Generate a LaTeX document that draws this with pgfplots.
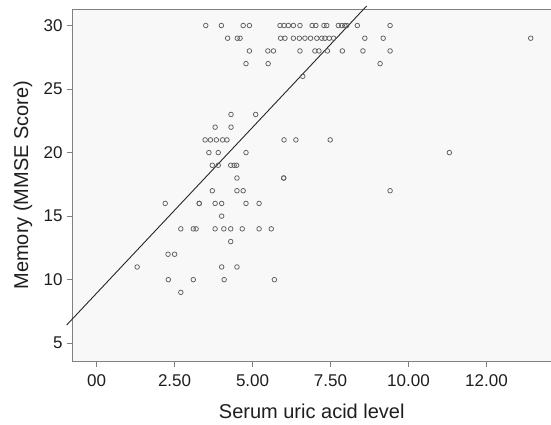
\documentclass[border=0pt]{standalone}
\usepackage{fontspec}
\setmainfont{Liberation Sans}
\usepackage{pgfplots}
\pgfplotsset{compat=1.18}

\definecolor{framegray}{RGB}{128,128,128}
\definecolor{markgray}{RGB}{95,95,95}
\definecolor{bggray}{RGB}{248,248,248}
\definecolor{txtgray}{RGB}{30,30,30}

\begin{document}
\begin{tikzpicture}
% canvas of the reference: 551 x 425
\useasboundingbox (-72.5bp,-64bp) rectangle (478.5bp,361bp);
\begin{axis}[
    scale only axis,
    width=478.5bp, height=352bp,
    xmin=-0.773, xmax=14.57,
    ymin=3.6, ymax=31.3,
    clip=false,
    axis background/.style={fill=bggray},
    axis line style={framegray, line width=0.9bp},
    tick style={framegray, line width=0.9bp},
    tick align=outside,
    major tick length=5.5bp,
    xtick pos=bottom, ytick pos=left,
    xtick={0,2.5,5,7.5,10,12.5},
    xticklabels={00,2.50,5.00,7.50,10.00,12.00},
    ytick={5,10,15,20,25,30},
    yticklabels={5,10,15,20,25,30},
    tick label style={font=\fontsize{17bp}{20bp}\selectfont, text=txtgray},
    xticklabel style={yshift=-5bp},
    yticklabel style={xshift=-1bp},
    label style={font=\fontsize{20bp}{24bp}\selectfont, text=txtgray},
    xlabel={Serum uric acid level},
    xlabel style={at={(axis description cs:0.5,0)}, anchor=center, yshift=-50bp},
    ylabel={Memory (MMSE Score)},
    ylabel style={at={([xshift=-49.5bp]axis description cs:0,0.5)}, anchor=center},
]
\addplot[only marks, mark=o, mark size=2.3bp, mark options={draw=markgray, line width=0.75bp}]
coordinates {
 (3.50,30) (4.00,30) (4.70,30) (4.90,30) (5.88,30) (6.01,30) (6.15,30) (6.31,30)
 (6.52,30) (6.91,30) (7.03,30) (7.29,30) (7.38,30) (7.75,30) (7.86,30) (7.96,30)
 (8.02,30) (8.36,30) (9.41,30)
 (4.20,29) (4.51,29) (4.60,29) (5.90,29) (6.04,29) (6.31,29) (6.50,29) (6.68,29)
 (6.86,29) (7.06,29) (7.22,29) (7.32,29) (7.46,29) (7.60,29) (8.60,29) (9.19,29)
 (13.92,29)
 (4.90,28) (5.49,28) (5.67,28) (6.52,28) (7.00,28) (7.13,28) (7.40,28) (7.88,28)
 (8.54,28) (9.41,28)
 (4.79,27) (5.50,27) (9.09,27)
 (6.61,26)
 (4.31,23) (5.10,23)
 (3.80,22) (4.31,22)
 (3.48,21) (3.65,21) (3.84,21) (4.04,21) (4.18,21) (6.01,21) (6.39,21) (7.49,21)
 (3.60,20) (3.90,20) (4.79,20) (11.31,20)
 (3.71,19) (3.90,19) (4.30,19) (4.41,19) (4.49,19)
 (4.50,18) (6.00,18) (6.00,18)
 (3.71,17) (4.50,17) (4.70,17) (9.41,17)
 (2.20,16) (3.29,16) (3.29,16) (3.80,16) (4.01,16) (4.79,16) (5.21,16)
 (4.01,15)
 (2.70,14) (3.10,14) (3.19,14) (3.80,14) (4.08,14) (4.30,14) (4.67,14) (5.21,14)
 (5.60,14)
 (4.30,13)
 (2.29,12) (2.50,12)
 (1.30,11) (4.01,11) (4.50,11)
 (2.30,10) (3.10,10) (4.09,10) (5.70,10)
 (2.70,9)
};
% fit line
\addplot[black!85, line width=0.9bp] coordinates {(-0.96,6.43) (8.66,31.54)};
\end{axis}
\end{tikzpicture}
\end{document}
